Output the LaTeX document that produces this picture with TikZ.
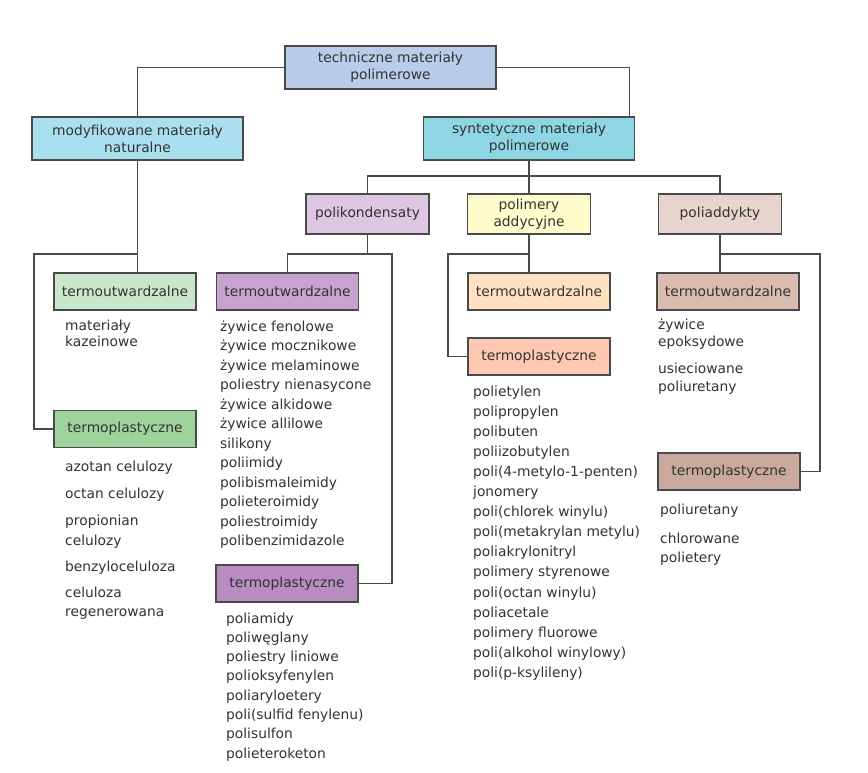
\documentclass[tikz,border=0pt]{standalone}
\usepackage{fontspec}
\setmainfont{DejaVu Sans}
\usetikzlibrary{calc}
\definecolor{linec}{HTML}{4A4A4A}
\definecolor{txt}{HTML}{333333}
\definecolor{cTop}{HTML}{B9CCE9}
\definecolor{cMod}{HTML}{A9DFEE}
\definecolor{cSyn}{HTML}{8FD6E4}
\definecolor{cGa}{HTML}{CBE7CB}
\definecolor{cGb}{HTML}{9ED39B}
\definecolor{cPk}{HTML}{DCC6E2}
\definecolor{cPa}{HTML}{C9A3CF}
\definecolor{cPb}{HTML}{B88CC0}
\definecolor{cAd}{HTML}{FFFCCC}
\definecolor{cOa}{HTML}{FFE1C1}
\definecolor{cOb}{HTML}{FEC8B2}
\definecolor{cPd}{HTML}{E8D4CE}
\definecolor{cBa}{HTML}{DABBB0}
\definecolor{cBb}{HTML}{CAA99E}
\begin{document}
\begin{tikzpicture}[x=1pt,y=-1pt,
  box/.style={draw=linec, line width=1.1pt, inner sep=0pt, align=center, text=txt,
    font=\fontsize{13.8}{17}\selectfont},
  wide/.style={minimum width=211pt, minimum height=43pt},
  mid/.style={minimum width=123pt, minimum height=40pt},
  sub/.style={minimum width=142pt, minimum height=37pt},
  item/.style={inner sep=0pt, anchor=base west, text=txt, font=\fontsize{13.8}{17}\selectfont},
  conn/.style={draw=linec, line width=1.1pt}]
\useasboundingbox (0,0) rectangle (868,773);
\fill[white] (0,0) rectangle (868,773);

% boxes
\node[box, wide, fill=cTop] (top) at (390.5,67.5) {techniczne materiały\\polimerowe};
\node[box, wide, fill=cMod] (modyf) at (137.5,138.5) {modyfikowane materiały\\naturalne};
\node[box, wide, fill=cSyn] (synt) at (529,138.5) {syntetyczne materiały\\polimerowe};
\node[box, mid, fill=cPk] (polik) at (367.5,214) {polikondensaty};
\node[box, mid, fill=cAd] (addy) at (529,214) {polimery\\addycyjne};
\node[box, mid, fill=cPd] (poliadd) at (720,214) {poliaddykty};

\node[box, sub, fill=cGa] (tw1) at (125,291.5) {termoutwardzalne};
\node[box, sub, fill=cGb] (tp1) at (125,429) {termoplastyczne};
\node[box, sub, fill=cPa] (tw2) at (287.5,291.5) {termoutwardzalne};
\node[box, sub, fill=cPb] (tp2) at (287,583.5) {termoplastyczne};
\node[box, sub, fill=cOa] (tw3) at (539,291.5) {termoutwardzalne};
\node[box, sub, fill=cOb] (tp3) at (539,356.5) {termoplastyczne};
\node[box, sub, fill=cBa] (tw4) at (728,291.5) {termoutwardzalne};
\node[box, sub, fill=cBb] (tp4) at (729,471.5) {termoplastyczne};

% junctions
\coordinate (jT) at ($(synt.north east)+(-6,0)$);
\coordinate (j1) at (137.5,254);
\coordinate (b1) at (34,254);
\coordinate (j2) at (529,176);
\coordinate (j3) at (367.5,254);
\coordinate (b3) at (392,254);
\coordinate (j4) at (529,254);
\coordinate (b4) at (448,254);
\coordinate (j5) at (720,254);
\coordinate (b5) at (820,254);

% connectors
\draw[conn] (top.west) -| (modyf.north);
\draw[conn] (top.east) -| (jT);
\draw[conn] (modyf.south) -- (modyf.south |- tw1.north);
\draw[conn] (j1) -- (b1) |- (tp1.west);
\draw[conn] (synt.south) -- (addy.north);
\draw[conn] (polik.north) |- (j2) -| (poliadd.north);
\draw[conn] (polik.south) -- (j3);
\draw[conn] (tw2.north) |- (j3) -- (b3) |- (tp2.east);
\draw[conn] (addy.south) -- (addy.south |- tw3.north);
\draw[conn] (j4) -- (b4) |- (tp3.west);
\draw[conn] (poliadd.south) -- (poliadd.south |- tw4.north);
\draw[conn] (j5) -- (b5) |- (tp4.east);

% lists: modyfikowane
\node[item] (a1) at (65,330) {materiały};
\node[item] (a2) at (65,346.7) {kazeinowe};
\node[item] (c1) at (65,471.5) {azotan celulozy};
\node[item] (c2) at (65,498) {octan celulozy};
\node[item] (c3) at (65,525) {propionian};
\node[item] (c4) at (65,545) {celulozy};
\node[item] (c5) at (65,571) {benzyloceluloza};
\node[item] (c6) at (65,597) {celuloza};
\node[item] (c7) at (65,616.5) {regenerowana};

% polikondensaty
\foreach \t [count=\i] in {{żywice fenolowe},{żywice mocznikowe},{żywice melaminowe},
  {poliestry nienasycone},{żywice alkidowe},{żywice allilowe},{silikony},{poliimidy},
  {polibismaleimidy},{polieteroimidy},{poliestroimidy},{polibenzimidazole}}
  \node[item] (d\i) at (220,331.5+19.45*\i-19.45) {\t};
\foreach \t [count=\i] in {{poliamidy},{poliwęglany},{poliestry liniowe},{polioksyfenylen},
  {poliaryloetery},{poli(sulfid fenylenu)},{polisulfon},{polieteroketon}}
  \node[item] (e\i) at (226,623+19.3*\i-19.3) {\t};

% addycyjne
\foreach \t [count=\i] in {{polietylen},{polipropylen},{polibuten},{poliizobutylen},
  {poli(4-metylo-1-penten)},{jonomery},{poli(chlorek winylu)},{poli(metakrylan metylu)},
  {poliakrylonitryl},{polimery styrenowe},{poli(octan winylu)},{poliacetale},
  {polimery fluorowe},{poli(alkohol winylowy)},{poli(p-ksylileny)}}
  \node[item] (f\i) at (473,396.5+20.05*\i-20.05) {\t};

% poliaddykty
\node[item] (g1) at (658,329) {żywice};
\node[item] (g2) at (658,346.7) {epoksydowe};
\node[item] (g3) at (658,373) {usieciowane};
\node[item] (g4) at (658,391.5) {poliuretany};
\node[item] (h1) at (660,514) {poliuretany};
\node[item] (h2) at (660,543) {chlorowane};
\node[item] (h3) at (660,562.5) {polietery};
\end{tikzpicture}
\end{document}
